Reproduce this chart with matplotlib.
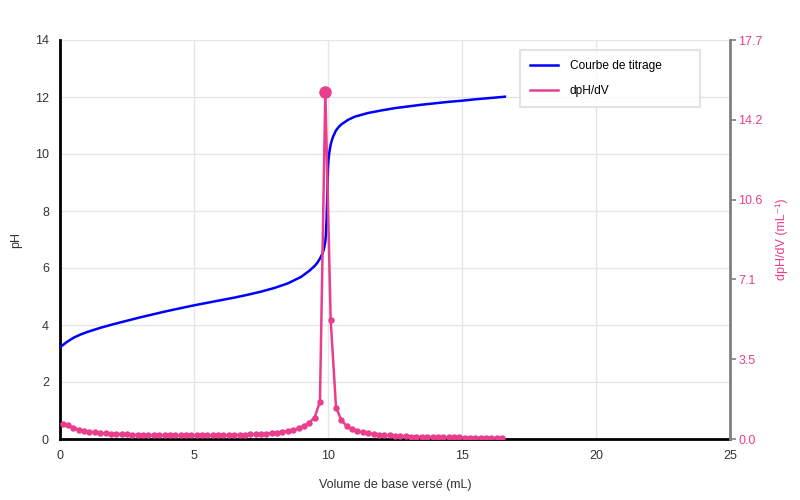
import matplotlib
matplotlib.use("Agg")
import matplotlib.pyplot as plt
from matplotlib.lines import Line2D
import numpy as np

plt.rcParams['font.family'] = ['Liberation Sans', 'DejaVu Sans']

# Titration curve (volume mL, pH)
vol = [0.0, 0.25, 0.5, 0.75, 1.0, 1.5, 2.0, 2.5, 3.0, 3.5, 4.0, 4.5, 5.0, 5.5, 6.0,
       6.5, 7.0, 7.5, 8.0, 8.5, 9.0, 9.3, 9.5, 9.6, 9.7, 9.8, 9.85, 9.9, 9.92, 9.95,
       9.97, 10.0, 10.02, 10.05, 10.08, 10.1, 10.15, 10.2, 10.3, 10.4, 10.5, 10.75,
       11.0, 11.5, 12.0, 12.5, 13.0, 13.5, 14.0, 14.5, 15.0, 15.5, 16.0, 16.6]
ph = [3.22, 3.40, 3.55, 3.66, 3.75, 3.90, 4.03, 4.15, 4.27, 4.38, 4.49, 4.59, 4.69,
      4.78, 4.87, 4.96, 5.06, 5.17, 5.30, 5.46, 5.69, 5.90, 6.07, 6.18, 6.33, 6.52,
      6.68, 6.92, 7.15, 7.8, 8.5, 9.5, 9.8, 10.05, 10.22, 10.33, 10.5, 10.63, 10.83,
      10.95, 11.04, 11.20, 11.31, 11.44, 11.53, 11.61, 11.67, 11.73, 11.78, 11.83,
      11.87, 11.92, 11.96, 12.01]

# Derivative (midpoint volumes, dpH/dV)
dvol = [0.1, 0.3, 0.5, 0.7, 0.9, 1.1, 1.3, 1.5, 1.7, 1.9, 2.1, 2.3, 2.5, 2.7, 2.9,
        3.1, 3.3, 3.5, 3.7, 3.9, 4.1, 4.3, 4.5, 4.7, 4.9, 5.1, 5.3, 5.5, 5.7, 5.9,
        6.1, 6.3, 6.5, 6.7, 6.9, 7.1, 7.3, 7.5, 7.7, 7.9, 8.1, 8.3, 8.5, 8.7, 8.9,
        9.1, 9.3, 9.5, 9.7, 9.9, 10.1, 10.3, 10.5, 10.7, 10.9, 11.1, 11.3, 11.5,
        11.7, 11.9, 12.1, 12.3, 12.5, 12.7, 12.9, 13.1, 13.3, 13.5, 13.7, 13.9,
        14.1, 14.3, 14.5, 14.7, 14.9, 15.1, 15.3, 15.5, 15.7, 15.9, 16.1, 16.3, 16.5]
deriv = [0.67, 0.62, 0.50, 0.42, 0.36, 0.32, 0.29, 0.27, 0.25, 0.23, 0.22, 0.21,
         0.20, 0.19, 0.18, 0.18, 0.17, 0.17, 0.17, 0.16, 0.16, 0.16, 0.16, 0.16,
         0.16, 0.16, 0.16, 0.16, 0.16, 0.17, 0.17, 0.17, 0.18, 0.18, 0.19, 0.20,
         0.21, 0.22, 0.24, 0.26, 0.28, 0.31, 0.35, 0.40, 0.47, 0.57, 0.73, 0.95,
         1.66, 15.4, 5.28, 1.39, 0.83, 0.57, 0.44, 0.35, 0.29, 0.25, 0.22, 0.19,
         0.17, 0.16, 0.14, 0.13, 0.12, 0.11, 0.105, 0.10, 0.09, 0.09, 0.08, 0.08,
         0.075, 0.07, 0.07, 0.065, 0.06, 0.06, 0.057, 0.055, 0.053, 0.05, 0.05]

x_ticks = [0, 5, 10, 15, 20, 25]
y_ticks = [0, 2, 4, 6, 8, 10, 12, 14]
y2_max = 17.7
y2_ticks = [0.0, 3.54, 7.08, 10.62, 14.16, 17.7]

BLUE = '#0000ff'
PINK = '#e83e8c'
TXT = '#333333'

fig = plt.figure(figsize=(8, 5), dpi=100)
ax = fig.add_axes([0.075, 0.122, 0.8375, 0.798])
ax2 = ax.twinx()

ax.plot(vol, ph, color=BLUE, lw=1.8, zorder=3)
ax2.plot(dvol, deriv, color=PINK, lw=1.8, marker='o', markersize=3.6, zorder=3)
imax = int(np.argmax(deriv))
ax2.plot([dvol[imax]], [deriv[imax]], 'o', color=PINK, markersize=8, zorder=4)

ax.set_xlim(0, 25)
ax.set_ylim(0, 14)
ax2.set_ylim(0, y2_max)
ax.set_xticks(x_ticks)
ax.set_yticks(y_ticks)
ax2.set_yticks(y2_ticks)
ax2.set_yticklabels([f"{v:.1f}" for v in y2_ticks])

ax.grid(True, color='#e6e6e6', lw=1)
ax.set_axisbelow(True)

for s in ['top', 'right']:
    ax.spines[s].set_visible(False)
ax.spines['left'].set_color('black')
ax.spines['left'].set_linewidth(2)
ax.spines['bottom'].set_color('black')
ax.spines['bottom'].set_linewidth(2)
for s in ['top', 'left', 'bottom']:
    ax2.spines[s].set_visible(False)
ax2.spines['right'].set_color('#808080')
ax2.spines['right'].set_linewidth(2)

ax.tick_params(axis='both', length=0, labelsize=9, colors=TXT, pad=8)
ax.tick_params(axis='x', pad=8)
ax2.tick_params(axis='y', length=4, width=1.2, color='#808080', labelcolor=PINK,
                labelsize=9, pad=2)

ax.set_xlabel('Volume de base versé (mL)', fontsize=9, color=TXT, labelpad=12)
ax.set_ylabel('pH', fontsize=9, color=TXT, labelpad=9)
ax2.set_ylabel('dpH/dV (mL⁻¹)', fontsize=9, color=PINK, labelpad=9)

handles = [Line2D([], [], color=BLUE, lw=1.8), Line2D([], [], color=PINK, lw=1.8)]
leg = fig.legend(handles, ['Courbe de titrage', 'dpH/dV'], loc='upper left',
                 bbox_to_anchor=(0.65, 0.9, 0.225, 0.0), mode='expand',
                 fontsize=8.6, frameon=True, fancybox=False, edgecolor='#dddddd',
                 handlelength=2.3, borderpad=0.85, labelspacing=1.05,
                 handletextpad=1.0, borderaxespad=0.0)
leg.get_frame().set_linewidth(1.5)

fig.savefig('out.png', dpi=100)
